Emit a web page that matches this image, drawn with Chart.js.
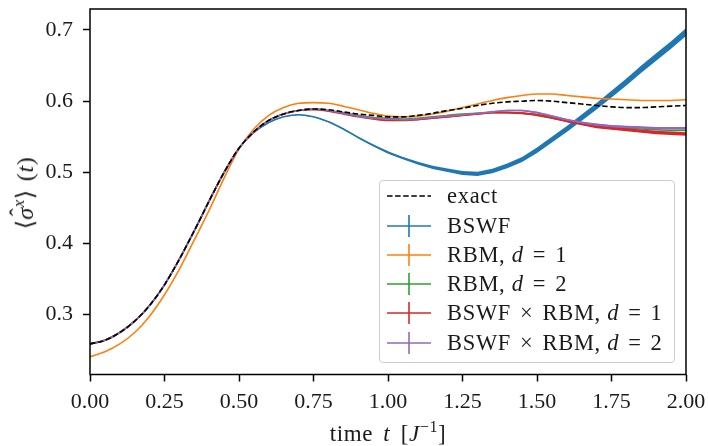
<!DOCTYPE html>
<html><head><meta charset="utf-8">
<script src="https://cdn.jsdelivr.net/npm/chart.js@4/dist/chart.umd.min.js"></script>
<style>
html,body{margin:0;padding:0;background:#fff;}
#wrap{position:relative;width:708px;height:446px;overflow:hidden;font-family:"Liberation Serif",serif;color:#1a1a1a;}
canvas{position:absolute;left:0;top:0;}
.lab{position:absolute;white-space:nowrap;font-size:23px;line-height:1;letter-spacing:0.6px;}
#legend{position:absolute;left:379px;top:180px;width:296px;height:183px;box-sizing:border-box;border:1.5px solid #cccccc;border-radius:4px;background:rgba(255,255,255,0.8);}
.row{position:absolute;left:0;width:290px;height:24px;}
.row svg{position:absolute;left:6px;top:0;}
.row .t{position:absolute;left:67px;top:2px;font-size:22.5px;line-height:20px;white-space:nowrap;letter-spacing:0.7px;}
.op{margin:0 0.4em;}
.sp{margin-left:0.35em;}
sup{font-size:0.7em;vertical-align:0.55em;line-height:0;}
.hat{position:relative;display:inline-block;}
.hat .h{position:absolute;left:0.14em;top:-0.3em;font-style:normal;}
</style></head>
<body><div id="wrap"><canvas id="c" width="708" height="446"></canvas>
<div class="lab" id="ytitle" style="left:25px;top:193px;font-size:24px;transform:translate(-50%,-50%) rotate(-90deg);">⟨<span class="hat"><i>σ</i><span class="h">ˆ</span></span><sup><i>x</i></sup>⟩<span class="sp"></span>(<i>t</i>)</div>
<div class="lab" id="xtitle" style="left:388px;top:433px;transform:translate(-50%,-50%);word-spacing:4px;">time <i>t</i> [<i>J</i><sup>−1</sup>]</div>
<div id="legend"></div>
</div>
<script>
const times=[0.00,0.05,0.10,0.15,0.20,0.25,0.30,0.35,0.40,0.45,0.50,0.55,0.60,0.65,0.70,0.75,0.80,0.85,0.90,0.95,1.00,1.05,1.10,1.15,1.20,1.25,1.30,1.35,1.40,1.45,1.50,1.55,1.60,1.65,1.70,1.75,1.80,1.85,1.90,1.95,2.00];
const exact=[0.259,0.264,0.275,0.291,0.313,0.342,0.378,0.418,0.460,0.500,0.534,0.557,0.573,0.582,0.587,0.589,0.588,0.585,0.582,0.580,0.578,0.578,0.580,0.583,0.587,0.590,0.594,0.597,0.599,0.600,0.601,0.600,0.598,0.596,0.594,0.592,0.591,0.591,0.592,0.593,0.594];
const bswf=[0.259,0.264,0.275,0.291,0.313,0.342,0.378,0.418,0.460,0.500,0.534,0.556,0.570,0.578,0.581,0.578,0.571,0.561,0.549,0.538,0.528,0.520,0.513,0.507,0.503,0.499,0.498,0.502,0.509,0.518,0.531,0.546,0.561,0.577,0.593,0.610,0.627,0.645,0.662,0.679,0.697];
const bswfErr=[0.0003,0.0003,0.0003,0.0003,0.0003,0.0003,0.0003,0.0003,0.0003,0.0003,0.0003,0.0003,0.0003,0.0004,0.0005,0.0006,0.0007,0.0009,0.0011,0.0013,0.0015,0.0017,0.0019,0.0022,0.0025,0.0028,0.0030,0.0032,0.0034,0.0036,0.0038,0.0040,0.0042,0.0044,0.0046,0.0048,0.0050,0.0051,0.0052,0.0053,0.0054];
const rbm1=[0.241,0.248,0.259,0.275,0.298,0.328,0.364,0.405,0.447,0.492,0.533,0.561,0.580,0.591,0.597,0.598,0.597,0.593,0.588,0.583,0.579,0.578,0.579,0.582,0.586,0.591,0.596,0.601,0.605,0.608,0.610,0.610,0.608,0.606,0.604,0.603,0.602,0.601,0.601,0.601,0.602];
const rbm2=[0.259,0.264,0.275,0.291,0.313,0.342,0.378,0.418,0.460,0.500,0.534,0.557,0.573,0.582,0.587,0.589,0.587,0.584,0.580,0.577,0.576,0.575,0.576,0.578,0.580,0.582,0.583,0.584,0.584,0.583,0.580,0.576,0.572,0.568,0.565,0.563,0.562,0.561,0.560,0.559,0.559];
const prod1=[0.259,0.264,0.275,0.291,0.313,0.342,0.378,0.418,0.460,0.500,0.534,0.557,0.573,0.582,0.587,0.588,0.586,0.582,0.578,0.575,0.573,0.573,0.574,0.576,0.578,0.580,0.582,0.584,0.584,0.583,0.581,0.577,0.572,0.568,0.564,0.562,0.560,0.558,0.556,0.555,0.554];
const prod1Err=[0.0002,0.0002,0.0002,0.0002,0.0002,0.0002,0.0002,0.0002,0.0002,0.0002,0.0002,0.0002,0.0002,0.0002,0.0002,0.0002,0.0003,0.0003,0.0004,0.0004,0.0005,0.0006,0.0007,0.0008,0.0009,0.0010,0.0011,0.0012,0.0013,0.0014,0.0015,0.0016,0.0017,0.0018,0.0019,0.0020,0.0021,0.0022,0.0023,0.0024,0.0025];
const prod2=[0.259,0.264,0.275,0.291,0.313,0.342,0.378,0.418,0.460,0.500,0.534,0.557,0.573,0.582,0.587,0.589,0.587,0.583,0.579,0.576,0.575,0.574,0.575,0.577,0.579,0.581,0.583,0.585,0.587,0.587,0.584,0.579,0.574,0.570,0.567,0.565,0.564,0.563,0.562,0.562,0.562];
const prod2Err=[0.0002,0.0002,0.0002,0.0002,0.0002,0.0002,0.0002,0.0002,0.0002,0.0002,0.0002,0.0002,0.0002,0.0002,0.0002,0.0002,0.0003,0.0003,0.0003,0.0004,0.0004,0.0005,0.0005,0.0006,0.0007,0.0008,0.0008,0.0009,0.0010,0.0011,0.0012,0.0012,0.0013,0.0014,0.0015,0.0015,0.0016,0.0017,0.0017,0.0018,0.0018];
const xTicks=[0,0.25,0.5,0.75,1.0,1.25,1.5,1.75,2.0];
const xTickLabels=['0.00','0.25','0.50','0.75','1.00','1.25','1.50','1.75','2.00'];
const yTicks=[0.3,0.4,0.5,0.6,0.7];
const yTickLabels=['0.3','0.4','0.5','0.6','0.7'];
const seriesNames=['exact','BSWF','RBM, <i>d</i><span class="op">=</span>1','RBM, <i>d</i><span class="op">=</span>2','BSWF<span class="op">×</span>RBM, <i>d</i><span class="op">=</span>1','BSWF<span class="op">×</span>RBM, <i>d</i><span class="op">=</span>2'];
const seriesColors=['#000000','#1f77b4','#ff7f0e','#2ca02c','#d62728','#9467bd'];

function pts(vals){return times.map((t,i)=>({x:t,y:vals[i]}));}
function mk(label,vals,color,order,errs,dash){
  return {label:label,data:pts(vals),errs:errs||null,borderColor:color,backgroundColor:color,borderWidth:1.6,
    borderDash:dash||[],pointRadius:0,fill:false,cubicInterpolationMode:'monotone',order:order};
}
const datasets=[
  mk('exact',exact,seriesColors[0],0,null,[5.5,2.6]),
  mk('BSWF',bswf,seriesColors[1],5,bswfErr),
  mk('RBM, d = 1',rbm1,seriesColors[2],4),
  mk('RBM, d = 2',rbm2,seriesColors[3],3),
  mk('BSWF × RBM, d = 1',prod1,seriesColors[4],2,prod1Err),
  mk('BSWF × RBM, d = 2',prod2,seriesColors[5],1,prod2Err)
];

const bandPlugin={id:'band',beforeDatasetDraw(chart,args){
  const ds=chart.data.datasets[args.index]; if(!ds.errs) return;
  const xs=chart.scales.x, ys=chart.scales.y, ctx=chart.ctx, a=chart.chartArea;
  ctx.save(); ctx.beginPath(); ctx.rect(a.left,a.top,a.right-a.left,a.bottom-a.top); ctx.clip();
  ctx.beginPath();
  ds.data.forEach((p,i)=>{const X=xs.getPixelForValue(p.x),Y=ys.getPixelForValue(p.y+ds.errs[i]); if(i)ctx.lineTo(X,Y); else ctx.moveTo(X,Y);});
  for(let i=ds.data.length-1;i>=0;i--){const p=ds.data[i]; ctx.lineTo(xs.getPixelForValue(p.x),ys.getPixelForValue(p.y-ds.errs[i]));}
  ctx.closePath(); ctx.fillStyle=ds.borderColor; ctx.fill(); ctx.restore();
}};
const framePlugin={id:'frame',afterDraw(chart){
  const a=chart.chartArea, ctx=chart.ctx;
  ctx.save(); ctx.strokeStyle='#000'; ctx.lineWidth=1.5;
  ctx.strokeRect(a.left,a.top,a.right-a.left,a.bottom-a.top); ctx.restore();
}};

const tickFont={family:'Liberation Serif',size:22};
new Chart(document.getElementById('c'),{
  type:'line',
  data:{datasets:datasets},
  plugins:[bandPlugin,framePlugin],
  options:{
    responsive:false,animation:false,devicePixelRatio:1,
    layout:{padding:{top:9,right:22,left:0,bottom:0}},
    plugins:{legend:{display:false},tooltip:{enabled:false}},
    scales:{
      x:{type:'linear',min:0,max:2,
        afterBuildTicks(s){s.ticks=xTicks.map(v=>({value:v}));},
        afterFit(s){s.height=71.5;s.paddingLeft=0;s.paddingRight=0;},
        ticks:{font:tickFont,color:'#1a1a1a',padding:8,maxRotation:0,autoSkip:false,callback:(v,i)=>xTickLabels[i]},
        grid:{display:true,drawOnChartArea:false,drawTicks:true,tickLength:7,tickWidth:1.5,tickColor:'#000'},
        border:{display:false}},
      y:{type:'linear',min:0.216,max:0.7295,
        afterBuildTicks(s){s.ticks=yTicks.map(v=>({value:v}));},
        afterFit(s){s.width=90;s.paddingTop=0;s.paddingBottom=0;},
        ticks:{font:tickFont,color:'#1a1a1a',padding:10,autoSkip:false,callback:(v,i)=>yTickLabels[i]},
        grid:{display:true,drawOnChartArea:false,drawTicks:true,tickLength:7,tickWidth:1.5,tickColor:'#000'},
        border:{display:false}}
    }
  }
});

const leg=document.getElementById('legend');
seriesNames.forEach((name,i)=>{
  const row=document.createElement('div'); row.className='row';
  row.style.top=(16.7+29.3*i-12-1.5)+'px';
  const c=seriesColors[i];
  const svg=i===0
    ? '<svg width="46" height="24"><line x1="1" y1="12" x2="45" y2="12" stroke="'+c+'" stroke-width="1.6" stroke-dasharray="5.5,2.6"/></svg>'
    : '<svg width="46" height="24"><line x1="1" y1="12" x2="45" y2="12" stroke="'+c+'" stroke-width="1.6"/><line x1="23" y1="1" x2="23" y2="23" stroke="'+c+'" stroke-width="1.6"/></svg>';
  row.innerHTML=svg+'<span class="t">'+name+'</span>';
  leg.appendChild(row);
});
</script>
</body></html>
